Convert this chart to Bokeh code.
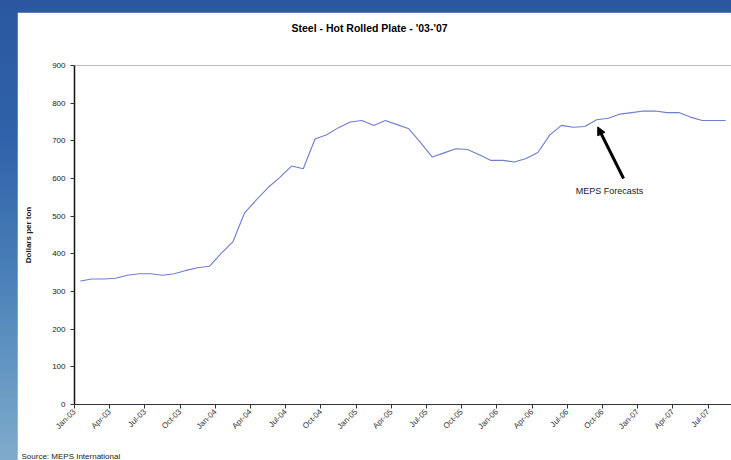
from math import pi
from bokeh.plotting import figure
from bokeh.models import (FixedTicker, Span, Label, Arrow, NormalHead, Column,
                          Range1d, ColumnDataSource, Title)
from bokeh.embed import file_html
from bokeh.resources import INLINE

# Monthly hot rolled plate price, Jan-03 .. Aug-07 (dollars per ton)
prices = [
    328, 333, 333, 335, 343, 347, 347, 343, 347, 356, 363, 367,   # 2003
    401, 432, 509, 543, 576, 603, 633, 626, 705, 716, 735, 750,   # 2004
    754, 741, 754, 743, 732, 695, 657, 668, 679, 677, 663, 648,   # 2005
    648, 644, 653, 669, 715, 741, 736, 738, 756, 760, 771, 775,   # 2006
    779, 779, 775, 775, 763, 754, 754, 754,                       # 2007
]
month_index = list(range(len(prices)))

tick_labels = ["Jan-03", "Apr-03", "Jul-03", "Oct-03",
               "Jan-04", "Apr-04", "Jul-04", "Oct-04",
               "Jan-05", "Apr-05", "Jul-05", "Oct-05",
               "Jan-06", "Apr-06", "Jul-06", "Oct-06",
               "Jan-07", "Apr-07", "Jul-07"]
tick_months = [3 * i for i in range(len(tick_labels))]
y_ticks = [0, 100, 200, 300, 400, 500, 600, 700, 800, 900]

FONT = "Liberation Sans"
TXT = "#222222"

src = ColumnDataSource(dict(x=[m + 0.5 for m in month_index], y=prices))

p = figure(width=714, height=448, x_range=Range1d(0, 56), y_range=Range1d(0, 900),
           output_backend="svg", toolbar_location=None, title=None,
           min_border_left=57, min_border_right=0, min_border_top=53, min_border_bottom=55)
p.margin = (12, 0, 0, 17)
p.border_fill_color = "white"
p.background_fill_color = "white"
p.outline_line_color = None
p.xgrid.visible = False
p.ygrid.visible = False

p.line("x", "y", source=src, line_color="#6F7DD2", line_width=1.1)

# top border of plot area
p.add_layout(Span(location=900, dimension="width", line_color="#A8A8A8", line_width=1))

xa = p.xaxis[0]
xa.ticker = FixedTicker(ticks=tick_months)
xa.major_label_overrides = {t: l for t, l in zip(tick_months, tick_labels)}
xa.major_label_orientation = pi / 4
xa.major_label_text_font = FONT
xa.major_label_text_font_size = "8px"
xa.major_label_text_color = "#333333"
xa.major_tick_out = 4
xa.major_tick_in = 0
xa.minor_tick_line_color = None
xa.axis_line_color = "#333333"
xa.major_tick_line_color = "#333333"
xa.major_label_standoff = 2

ya = p.yaxis[0]
ya.ticker = FixedTicker(ticks=y_ticks)
ya.major_label_text_font = FONT
ya.major_label_text_font_size = "8px"
ya.major_label_text_color = TXT
ya.major_tick_out = 4
ya.major_tick_in = 0
ya.minor_tick_line_color = None
ya.axis_line_color = "#111111"
ya.axis_line_width = 1.5
ya.major_tick_line_color = "#333333"
ya.major_label_standoff = 5
ya.axis_label = "Dollars per ton"
ya.axis_label_text_font = FONT
ya.axis_label_text_font_size = "8px"
ya.axis_label_text_font_style = "bold"
ya.axis_label_text_color = TXT
ya.axis_label_standoff = 16

# title (spacer nearest the frame, then the title itself)
p.add_layout(Title(text=" ", text_font_size="1px", standoff=29), "above")
p.add_layout(Title(text="Steel - Hot Rolled Plate - '03-'07", align="left", offset=217,
                   standoff=0, text_font=FONT, text_font_size="10.5px",
                   text_font_style="bold", text_color="black"), "above")

# annotation
p.add_layout(Arrow(end=NormalHead(size=8, fill_color="black", line_color="black"),
                   x_start=46.8, y_start=600, x_end=44.6, y_end=737,
                   line_color="black", line_width=3))
p.add_layout(Label(x=45.6, y=567, text="MEPS Forecasts", text_font=FONT,
                   text_font_size="9px", text_color=TXT,
                   text_align="center", text_baseline="middle"))

# source (spacer below the axis, then the text)
p.add_layout(Title(text=" ", text_font_size="1px", standoff=9), "below")
p.add_layout(Title(text="Source: MEPS International", align="left", offset=-53,
                   standoff=0, text_font=FONT, text_font_size="8px",
                   text_font_style="normal", text_color=TXT), "below")

layout = Column(children=[p], styles={
    "background": "linear-gradient(to bottom, #2a57a0 0%, #2f62aa 30%, #4a80b8 60%, #6a9cc4 85%, #80aacb 100%)"})

open("out.html", "w").write(file_html(layout, INLINE))
